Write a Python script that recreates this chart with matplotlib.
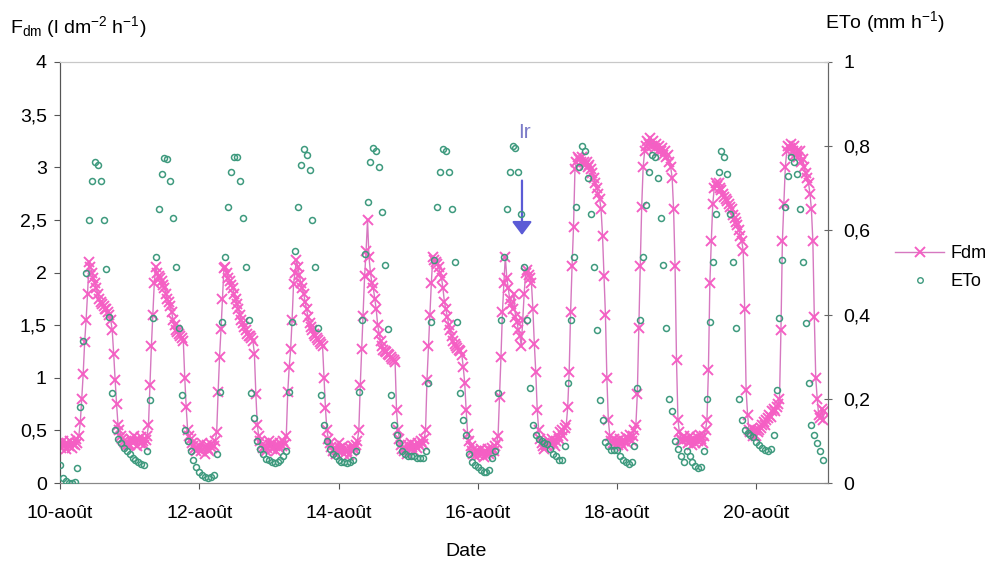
import pandas as pd
import matplotlib
matplotlib.use('Agg')
import matplotlib.pyplot as plt
import matplotlib.dates as mdates
from matplotlib.ticker import FuncFormatter, MultipleLocator
from matplotlib.lines import Line2D

plt.rcParams['font.family'] = ['Liberation Sans', 'DejaVu Sans']
plt.rcParams['mathtext.fontset'] = 'custom'
plt.rcParams['mathtext.rm'] = 'Liberation Sans'
plt.rcParams['mathtext.it'] = 'Liberation Sans:italic'

# Fdm (l dm-2 h-1), one value every 30 min, one list per day
fdm_10 = [0.35, 0.33, 0.40, 0.36, 0.32, 0.38, 0.35, 0.40, 0.33, 0.37, 0.36, 0.42, 0.38, 0.45,
          0.58, 0.80, 1.04, 1.34, 1.55, 1.80, 2.10,
          2.05, 2.00, 1.95, 1.90, 1.85, 1.80, 1.75, 1.72, 1.70, 1.68, 1.65, 1.65, 1.62, 1.60, 1.55,
          1.45, 1.23, 0.98, 0.75, 0.55, 0.50, 0.45, 0.42, 0.40, 0.38, 0.36, 0.37]
fdm_11 = [0.36, 0.42, 0.38, 0.45, 0.40, 0.35, 0.42, 0.38, 0.44, 0.40, 0.36, 0.41, 0.45,
          0.55, 0.93, 1.30, 1.60, 1.90, 2.05,
          2.00, 1.97, 1.95, 1.92, 1.88, 1.85, 1.80, 1.75, 1.72, 1.68, 1.62, 1.55, 1.50, 1.45, 1.43,
          1.42, 1.40, 1.38, 1.35,
          1.00, 0.72, 0.50, 0.45, 0.42, 0.38, 0.35, 0.33, 0.30, 0.32]
fdm_12 = [0.35, 0.30, 0.38, 0.33, 0.28, 0.36, 0.32, 0.30, 0.37, 0.33, 0.35, 0.40, 0.48,
          0.86, 1.20, 1.46, 1.75, 2.04,
          2.05, 2.00, 1.95, 1.92, 1.88, 1.85, 1.80, 1.75, 1.70, 1.65, 1.60, 1.55, 1.52, 1.48, 1.45,
          1.42, 1.40, 1.40, 1.38, 1.35,
          1.23, 0.85, 0.55, 0.45, 0.40, 0.36, 0.33, 0.35, 0.30, 0.33]
fdm_13 = [0.40, 0.36, 0.32, 0.38, 0.35, 0.30, 0.36, 0.33, 0.38, 0.35, 0.40, 0.37, 0.45,
          0.86, 1.10, 1.27, 1.55, 1.89, 2.00, 2.12,
          2.05, 1.98, 1.90, 1.85, 1.80, 1.72, 1.65, 1.58, 1.52, 1.48, 1.45, 1.42, 1.40, 1.38, 1.36,
          1.34, 1.32, 1.30,
          1.00, 0.71, 0.50, 0.42, 0.38, 0.34, 0.30, 0.32, 0.28, 0.31]
fdm_14 = [0.38, 0.33, 0.30, 0.35, 0.28, 0.32, 0.30, 0.27, 0.33, 0.30, 0.35, 0.32, 0.36, 0.40, 0.50,
          0.93, 1.27, 1.59, 1.97, 2.20, 2.50,
          2.15, 2.00, 1.90, 1.85, 1.75, 1.65, 1.50, 1.42, 1.35, 1.30, 1.26, 1.25, 1.24, 1.23, 1.22,
          1.20, 1.18, 1.17, 1.15,
          0.69, 0.50, 0.42, 0.36, 0.32, 0.30, 0.33, 0.28]
fdm_15 = [0.36, 0.32, 0.38, 0.34, 0.30, 0.36, 0.33, 0.38, 0.35, 0.40, 0.37, 0.42,
          0.50, 0.98, 1.30, 1.60, 1.90, 2.15,
          2.12, 2.10, 2.08, 2.05, 2.00, 1.95, 1.85, 1.72, 1.65, 1.58, 1.50, 1.45, 1.40, 1.35, 1.32,
          1.30, 1.28, 1.26, 1.25, 1.22, 1.10,
          0.95, 0.69, 0.47, 0.40, 0.35, 0.30, 0.28, 0.26, 0.30]
fdm_16 = [0.30, 0.27, 0.32, 0.28, 0.25, 0.30, 0.27, 0.32, 0.28, 0.30, 0.33, 0.30, 0.35, 0.38, 0.45,
          0.82, 1.20, 1.62, 1.90, 2.15,
          1.95, 1.85, 1.75, 1.70, 1.65, 1.80, 1.58, 1.53, 1.45, 1.40, 1.30, 1.55, 1.80, 2.00, 2.02,
          1.98, 1.95, 1.90, 1.65, 1.32,
          1.05, 0.69, 0.50, 0.42, 0.38, 0.35, 0.32, 0.36]
fdm_17 = [0.35, 0.40, 0.37, 0.42, 0.38, 0.35, 0.40, 0.45, 0.42, 0.48, 0.50, 0.45, 0.52, 0.55,
          0.72, 1.05, 1.62, 2.06, 2.43, 2.98,
          3.05, 3.10, 3.08, 3.05, 3.10, 3.05, 3.02, 3.05, 3.00, 3.02, 2.98, 2.95, 2.90, 2.85, 2.80,
          2.75, 2.70, 2.60,
          2.35, 1.97, 1.60, 1.00, 0.60, 0.45, 0.40, 0.38, 0.42, 0.36]
fdm_18 = [0.40, 0.36, 0.42, 0.38, 0.35, 0.40, 0.44, 0.38, 0.42, 0.46, 0.40, 0.45, 0.50, 0.55,
          0.85, 1.47, 2.06, 2.62, 3.00, 3.15,
          3.20, 3.25, 3.22, 3.28, 3.20, 3.25, 3.18, 3.22, 3.15, 3.20, 3.15, 3.18, 3.12, 3.15, 3.10,
          3.12, 3.05, 3.00,
          2.90, 2.60, 2.06, 1.17, 0.60, 0.48, 0.42, 0.40, 0.45, 0.42]
fdm_19 = [0.42, 0.38, 0.45, 0.40, 0.36, 0.42, 0.38, 0.44, 0.40, 0.46, 0.42, 0.38, 0.45, 0.50, 0.60,
          1.07, 1.90, 2.30, 2.65,
          2.80, 2.85, 2.82, 2.85, 2.80, 2.78, 2.75, 2.72, 2.70, 2.68, 2.65, 2.62, 2.60, 2.55, 2.52,
          2.48, 2.45, 2.40, 2.35, 2.30, 2.20, 1.65,
          0.88, 0.65, 0.50, 0.48, 0.52, 0.45, 0.50]
fdm_20 = [0.45, 0.48, 0.50, 0.52, 0.55, 0.58, 0.55, 0.60, 0.62, 0.65, 0.63, 0.68, 0.70, 0.68,
          0.72, 0.75,
          0.80, 1.45, 2.30, 2.65, 3.00,
          3.15, 3.20, 3.18, 3.22, 3.15, 3.20, 3.12, 3.15, 3.10, 3.15, 3.05, 3.08, 3.00, 2.95, 2.90,
          2.85, 2.75, 2.60, 2.30,
          1.58, 1.00, 0.80, 0.65, 0.62, 0.70, 0.60, 0.68]

# ETo (mm h-1), hourly, one list per day
eto_10 = [0.042, 0.012, 0.005, 0.0, 0.0, 0.003, 0.035, 0.18, 0.338, 0.5, 0.625, 0.718,
          0.763, 0.755, 0.718, 0.625, 0.508, 0.395, 0.213, 0.125, 0.105, 0.095, 0.083, 0.075]
eto_11 = [0.068, 0.06, 0.055, 0.05, 0.045, 0.043, 0.075, 0.198, 0.393, 0.538, 0.65, 0.733,
          0.773, 0.77, 0.718, 0.63, 0.513, 0.368, 0.21, 0.125, 0.1, 0.075, 0.055, 0.038]
eto_12 = [0.025, 0.018, 0.015, 0.013, 0.015, 0.02, 0.068, 0.215, 0.383, 0.538, 0.655, 0.738,
          0.775, 0.775, 0.718, 0.63, 0.513, 0.388, 0.213, 0.155, 0.1, 0.08, 0.07, 0.058]
eto_13 = [0.055, 0.05, 0.048, 0.05, 0.055, 0.063, 0.075, 0.215, 0.383, 0.55, 0.655, 0.755,
          0.793, 0.78, 0.743, 0.625, 0.513, 0.368, 0.208, 0.138, 0.1, 0.08, 0.07, 0.063]
eto_14 = [0.055, 0.05, 0.05, 0.048, 0.05, 0.055, 0.075, 0.215, 0.388, 0.545, 0.668, 0.763,
          0.795, 0.788, 0.75, 0.643, 0.518, 0.365, 0.208, 0.138, 0.113, 0.095, 0.075, 0.068]
eto_15 = [0.065, 0.063, 0.063, 0.06, 0.06, 0.06, 0.075, 0.238, 0.383, 0.53, 0.655, 0.738,
          0.793, 0.788, 0.738, 0.65, 0.525, 0.383, 0.213, 0.15, 0.113, 0.068, 0.05, 0.043]
eto_16 = [0.038, 0.03, 0.025, 0.025, 0.03, 0.06, 0.075, 0.213, 0.388, 0.538, 0.65, 0.738,
          0.8, 0.795, 0.738, 0.638, 0.513, 0.388, 0.225, 0.138, 0.115, 0.105, 0.1, 0.095]
eto_17 = [0.093, 0.08, 0.068, 0.063, 0.055, 0.055, 0.088, 0.238, 0.388, 0.538, 0.655, 0.75,
          0.8, 0.788, 0.725, 0.638, 0.513, 0.363, 0.198, 0.15, 0.098, 0.088, 0.078, 0.078]
eto_18 = [0.078, 0.063, 0.055, 0.05, 0.045, 0.05, 0.088, 0.225, 0.388, 0.538, 0.66, 0.738,
          0.78, 0.775, 0.725, 0.63, 0.518, 0.368, 0.2, 0.17, 0.1, 0.08, 0.063, 0.05]
eto_19 = [0.075, 0.065, 0.05, 0.04, 0.035, 0.038, 0.075, 0.2, 0.383, 0.525, 0.638, 0.738,
          0.788, 0.775, 0.733, 0.638, 0.525, 0.368, 0.2, 0.15, 0.125, 0.118, 0.113, 0.11]
eto_20 = [0.098, 0.09, 0.083, 0.078, 0.075, 0.08, 0.113, 0.22, 0.393, 0.53, 0.655, 0.73,
          0.775, 0.763, 0.733, 0.65, 0.525, 0.38, 0.238, 0.138, 0.113, 0.095, 0.075, 0.055]

days = ['2008-08-%d' % d for d in range(10, 21)]
fdm_days = [fdm_10, fdm_11, fdm_12, fdm_13, fdm_14, fdm_15, fdm_16, fdm_17, fdm_18, fdm_19, fdm_20]
eto_days = [eto_10, eto_11, eto_12, eto_13, eto_14, eto_15, eto_16, eto_17, eto_18, eto_19, eto_20]

fdm = pd.concat([pd.Series(v, index=pd.date_range(d, periods=len(v), freq='30min'))
                 for d, v in zip(days, fdm_days)])
eto = pd.concat([pd.Series(v, index=pd.date_range(d, periods=len(v), freq='h'))
                 for d, v in zip(days, eto_days)])

pink = '#f55fc4'
line_pink = '#d678c0'
green = '#3e9a7e'

fig = plt.figure(figsize=(9.96, 5.62), dpi=100)
ax = fig.add_axes([60 / 996, 1 - 483 / 562, 768 / 996, 421 / 562])
ax.plot(fdm.index, fdm.values, color=line_pink, lw=1.0, marker='x', ms=7,
        mec=pink, mew=1.4, zorder=2)

ax2 = ax.twinx()
ax2.plot(eto.index, eto.values, ls='none', marker='o', ms=4.3, mfc='none',
         mec=green, mew=1.1, zorder=3)

x0 = mdates.date2num(pd.Timestamp('2008-08-10'))
ax.set_xlim(x0, x0 + 11.03)
ax.set_ylim(0, 4)
ax2.set_ylim(0, 1)

comma = FuncFormatter(lambda v, p: ('%g' % round(v, 2)).replace('.', ','))
ax.yaxis.set_major_locator(MultipleLocator(0.5))
ax.yaxis.set_major_formatter(comma)
ax2.yaxis.set_major_locator(MultipleLocator(0.2))
ax2.yaxis.set_major_formatter(comma)

ax.xaxis.set_major_locator(mdates.DayLocator(bymonthday=[10, 12, 14, 16, 18, 20]))
ax.xaxis.set_major_formatter(FuncFormatter(lambda v, p: '%d-août' % mdates.num2date(v).day))

ax.tick_params(axis='y', labelsize=14, length=4.5, width=0.8, color='#555555', pad=5)
ax.tick_params(axis='x', labelsize=14, length=4, width=0.8, color='#555555', pad=12)
ax2.tick_params(axis='y', labelsize=14, length=6, width=0.8, color='#666666',
                direction='inout', pad=8)

for a in (ax, ax2):
    a.spines['top'].set_color('#c8c8c8')
    a.spines['left'].set_color('#555555')
    a.spines['bottom'].set_color('#888888')
    a.spines['right'].set_color('#666666')

fig.text(10 / 996, 1 - 33 / 562, r'F$_{\mathrm{dm}}$ (l dm$^{-2}$ h$^{-1}$)', fontsize=14,
         va='baseline', ha='left')
fig.text(885 / 996, 1 - 28 / 562, r'ETo (mm h$^{-1}$)', fontsize=14, va='baseline', ha='center')
fig.text(466 / 996, 1 - 551 / 562, 'Date', fontsize=14, va='center', ha='center')

# irrigation marker
xa = x0 + 6.635
ax.annotate('', xy=(xa, 2.33), xytext=(xa, 2.9),
            arrowprops=dict(arrowstyle='-|>,head_width=0.6,head_length=0.8',
                            color='#5b5bd6', lw=1.6), zorder=5)
ax.text(xa + 0.04, 3.33, 'Ir', color='#7b7bc8', fontsize=15, ha='center', va='center', zorder=5)

handles = [Line2D([], [], color=line_pink, lw=1.0, marker='x', ms=7, mec=pink, mew=1.4),
           Line2D([], [], ls='none', marker='o', ms=4, mfc='none', mec=green, mew=1.0)]
fig.legend(handles, ['Fdm', 'ETo'], loc='upper left', bbox_to_anchor=(879 / 996, 1 - 229 / 562),
           frameon=False, fontsize=13, handlelength=2.7, labelspacing=0.6, handletextpad=0.35)

fig.savefig('out.png', dpi=100)
